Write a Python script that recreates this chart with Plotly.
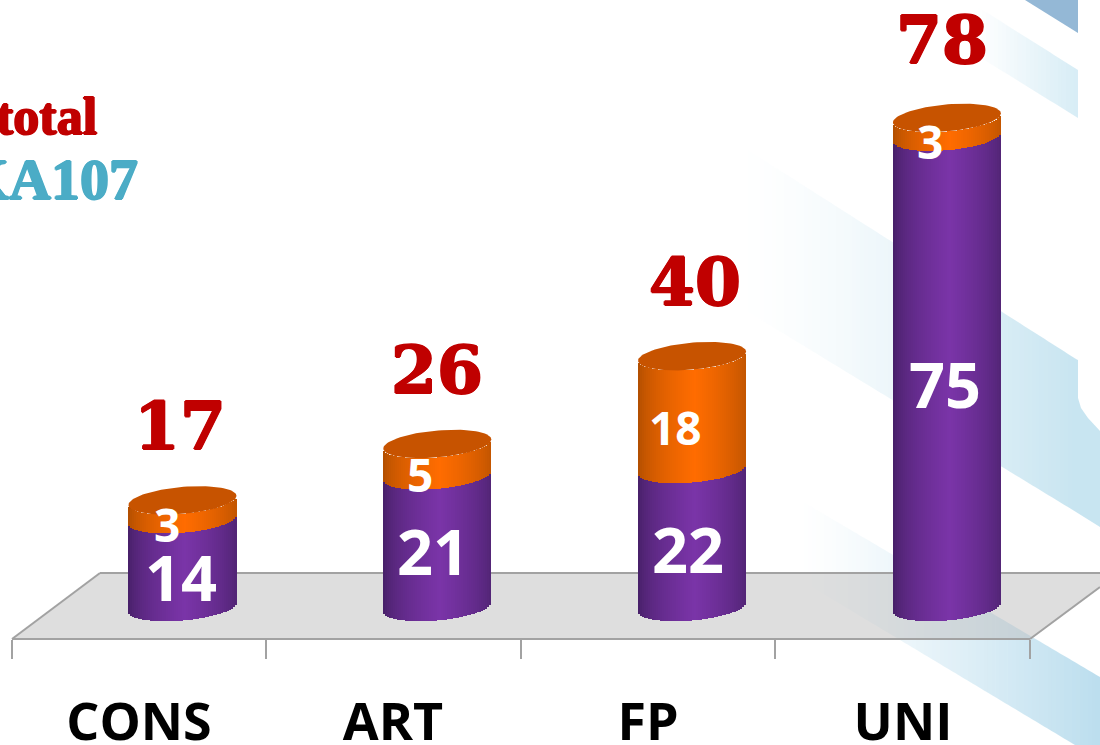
import numpy as np
import plotly.graph_objects as go

categories = ["CONS", "ART", "FP", "UNI"]
lower_values = [14, 21, 22, 75]
upper_values = [3, 5, 18, 3]
total_values = [17, 26, 40, 78]

W, H = 1100, 745
AXIS_PX = 639
ZERO_PX = 607
PX_PER_UNIT = 6.27
PX_PER_CAT = 254.8
FIRST_CENTER_PX = 182.5
HALF_W = 54
ELL = 13.5
TILT = 4.5
N = 54

x_range = [-FIRST_CENTER_PX / PX_PER_CAT, (W - FIRST_CENTER_PX) / PX_PER_CAT]
y_range = [(ZERO_PX - AXIS_PX) / PX_PER_UNIT, ZERO_PX / PX_PER_UNIT]

def xdata(p):
    return (p - FIRST_CENTER_PX) / PX_PER_CAT

def px(x):
    return x / W

def py(y):
    return (AXIS_PX - y) / AXIS_PX

def poly(points, fill, layer="below"):
    d = "M " + " L ".join(f"{px(a):.5f},{py(b):.5f}" for a, b in points) + " Z"
    return dict(type="path", path=d, xref="paper", yref="paper", fillcolor=fill,
                line=dict(width=0), layer=layer)

def band(x0, x1, t0, t1, b0, b1, rgb, a0, a1, step=4, power=1.0):
    out = []
    xs = np.arange(x0, x1 + .1, step)
    n = len(xs) - 1
    f = lambda e0, e1, x: e0 + (e1 - e0) * (x - x0) / (x1 - x0)
    for k in range(n):
        xa, xb = float(xs[k]), float(xs[k + 1])
        al = a0 + (a1 - a0) * ((k + .5) / n) ** power
        out.append(poly([(xa, f(t0, t1, xa)), (xb, f(t0, t1, xb)),
                         (xb, f(b0, b1, xb)), (xa, f(b0, b1, xa))],
                        f"rgba({rgb},{al:.3f})"))
    return out

BLUE = "190,224,238"
shapes = []
shapes += band(740, 1076, 145, 359, 307, 512, BLUE, 0, .85, power=1.4)
# right end of the central band, with its rounded notch
shapes.append(poly([(1076, 359), (1078, 360), (1078, 398), (1081, 408), (1088, 418), (1100, 431),
                    (1100, 527), (1076, 512)], f"rgba({BLUE},.85)"))
shapes += band(800, 1100, 500, 677, 580, 760, "180,218,236", 0, .9, power=1.2)
shapes += band(978, 1078, 7, 70, 56, 118, "205,232,243", 0, .8)
shapes.append(poly([(1025, 0), (1078, 33), (1078, 0)], "#94b8d6"))
# floor
shapes.append(poly([(12, 639), (100, 573), (1118, 573), (1030, 639)], "rgba(190,190,190,0.5)"))
for pts in ([(12, 639), (1030, 639)], [(100, 573), (1100, 573)], [(12, 639), (100, 573)], [(1030, 639), (1100, 587)]):
    shapes.append(dict(type="line", xref="paper", yref="paper", x0=px(pts[0][0]), y0=py(pts[0][1]),
                       x1=px(pts[1][0]), y1=py(pts[1][1]), line=dict(color="#a2a2a2", width=2), layer="below"))

def mix(c0, c1, t):
    return tuple(c0[j] + (c1[j] - c0[j]) * t for j in range(3))

def shade(u, edge, mid):
    t = np.clip(1 - abs(u - 0.05) / 1.05, 0, 1) ** 0.55
    c = mix(edge, mid, t)
    return f"rgb({c[0]:.0f},{c[1]:.0f},{c[2]:.0f})"

us = (np.arange(N) + .5) / N * 2 - 1
strip = 2 * HALF_W / N / PX_PER_CAT

def curve(u):
    return (ELL * np.sqrt(1 - u ** 2) - TILT * u) / PX_PER_UNIT

P_E, P_M = (66, 30, 98), (122, 52, 168)
O_E, O_M = (170, 76, 0), (255, 108, 0)

def cyl(bottoms, tops, edge, mid, name):
    xs, bases, hs, cols = [], [], [], []
    for i, (b, t) in enumerate(zip(bottoms, tops)):
        for u in us:
            xs.append(i + u * HALF_W / PX_PER_CAT)
            yb = b - curve(u)
            yt = t - curve(u)
            bases.append(yb)
            hs.append(yt - yb)
            cols.append(shade(u, edge, mid))
    return go.Bar(x=xs, y=hs, base=bases, width=strip * 1.15, name=name, showlegend=False,
                  marker=dict(color=cols, line=dict(width=0)), hoverinfo="skip")

fig = go.Figure()
zeros = [0] * 4
fig.add_trace(cyl(zeros, lower_values, P_E, P_M, "lower"))
fig.add_trace(cyl(lower_values, total_values, O_E, O_M, "upper"))

th = np.linspace(0, 2 * np.pi, 90)
for i, t in enumerate(total_values):
    ux = np.cos(th)
    fig.add_trace(go.Scatter(
        x=i + ux * HALF_W / PX_PER_CAT,
        y=t + (ELL * np.sin(th) + TILT * ux) / PX_PER_UNIT,
        mode="lines", fill="toself", fillcolor="#c75300", line=dict(width=0),
        showlegend=False, hoverinfo="skip"))

def heavy(c):
    return f"1px 0 0 {c}, -1px 0 0 {c}, 0 1px 0 {c}, 0 -1px 0 {c}"

ann = []
SERIF = "DejaVu Serif"
SANS = "Open Sans"
RED = "#c00000"
TEAL = "#4bacc6"
tot_dx = [-3, 0, 3, -5]
tot_dy = [74, 74, 74, 78]
for i, t in enumerate(total_values):
    ann.append(dict(x=i, y=t, yshift=tot_dy[i], xshift=tot_dx[i], text=f"<b>{t}</b>", showarrow=False,
                    font=dict(family=SERIF, size=66, color=RED, shadow=heavy(RED))))
low_dx = [-2, -4, -4, -2]
low_dy = [-13, -9, -10, -12]
up_dx = [-16, -17, -17, -17]
for i in range(4):
    lv, uv = lower_values[i], upper_values[i]
    ann.append(dict(x=i, y=lv / 2, yshift=low_dy[i], xshift=low_dx[i], text=f"<b>{lv}</b>", showarrow=False,
                    font=dict(family=SANS, size=63, color="white")))
    ann.append(dict(x=i, y=lv + uv / 2, yshift=-14, xshift=up_dx[i], text=f"<b>{uv}</b>", showarrow=False,
                    font=dict(family=SANS, size=46, color="white")))
ann.append(dict(xref="paper", yref="paper", x=px(99), y=py(117), xanchor="right", yanchor="middle",
                text="<b>total</b>", showarrow=False,
                font=dict(family="Liberation Serif", size=52, color=RED, shadow=heavy(RED))))
ann.append(dict(xref="paper", yref="paper", x=px(140), y=py(180), xanchor="right", yanchor="middle",
                text="<b>KA107</b>", showarrow=False,
                font=dict(family="Liberation Serif", size=58, color=TEAL, shadow=heavy(TEAL))))

label_px = [139, 393, 648, 903]
tick_px = [12, 266, 521, 775, 1030]
fig.update_layout(
    width=W, height=H, margin=dict(l=0, r=0, t=0, b=H - AXIS_PX, pad=0, autoexpand=False),
    paper_bgcolor="white", plot_bgcolor="rgba(0,0,0,0)", barmode="overlay", bargap=0,
    showlegend=False, shapes=shapes, annotations=ann,
    xaxis=dict(range=x_range, showgrid=False, zeroline=False, showline=False, fixedrange=True,
               automargin=False,
               tickmode="array", tickvals=[xdata(p) for p in label_px], ticktext=categories,
               ticks="", ticklabelstandoff=48,
               tickfont=dict(family=SANS, size=52, color="black", weight="bold"),
               minor=dict(tickmode="array", tickvals=[xdata(p) for p in tick_px],
                          ticks="outside", ticklen=19, tickwidth=2, tickcolor="#a2a2a2", showgrid=False)),
    yaxis=dict(range=y_range, visible=False, fixedrange=True, automargin=False),
)
fig.write_html("out.html", config=dict(displayModeBar=False),
               post_script="document.body.style.margin='0';document.body.style.overflow='hidden';")
